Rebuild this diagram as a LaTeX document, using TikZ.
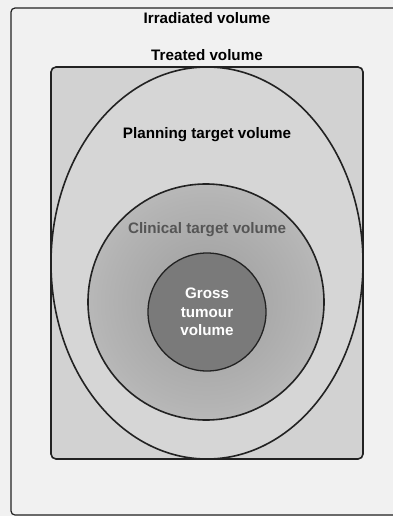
\documentclass[tikz,border=0pt]{standalone}
\usepackage{fontspec}
\setmainfont{Liberation Sans}
\usepackage{tikz}
\definecolor{Ink}{HTML}{222222}
\definecolor{Paper}{HTML}{F1F1F1}
\definecolor{Treat}{HTML}{D2D2D2}
\definecolor{Ptv}{HTML}{D6D6D6}
\definecolor{CtvIn}{HTML}{9C9C9C}
\definecolor{CtvOut}{HTML}{D8D8D8}
\definecolor{Gtv}{HTML}{7A7A7A}
\definecolor{CtvText}{HTML}{555555}
\pgfdeclareradialshading{ctvshade}{\pgfpoint{0bp}{0bp}}{color(0bp)=(CtvIn); color(22bp)=(CtvIn!60!CtvOut); color(50bp)=(CtvOut)}

\begin{document}
\begin{tikzpicture}[x=1pt,y=-1pt,
    lbl/.style={font=\bfseries\fontsize{15.2}{18.5}\selectfont,inner sep=0pt},
    edge/.style={draw=Ink,line width=1.6pt}]
  \useasboundingbox (0,0) rectangle (393,516);
  \fill[Paper] (0,0) rectangle (393,516);
  % irradiated volume
  \draw[Ink,line width=1.2pt,rounded corners=4pt] (11,8) rectangle (402,515);
  % treated volume
  \filldraw[edge,fill=Treat,rounded corners=5pt] (51,67) rectangle (363,459);
  % planning, clinical, gross
  \filldraw[edge,fill=Ptv] (207,263) ellipse [x radius=156, y radius=196];
  \draw[edge,shading=ctvshade] (206,302) circle [radius=118];
  \filldraw[edge,fill=Gtv,line width=1.3pt] (207,312) circle [radius=59];
  \node (irr) [lbl] at (207,18) {Irradiated volume};
  \node (trt) [lbl] at (207,55) {Treated volume};
  \node (ptv) [lbl] at (207,135) {Planning target volume};
  \node (ctv) [lbl,CtvText] at (207,230) {Clinical target volume};
  \node (gtv) [lbl,white,align=center] at (207,312) {Gross\\tumour\\volume};
\end{tikzpicture}
\end{document}
